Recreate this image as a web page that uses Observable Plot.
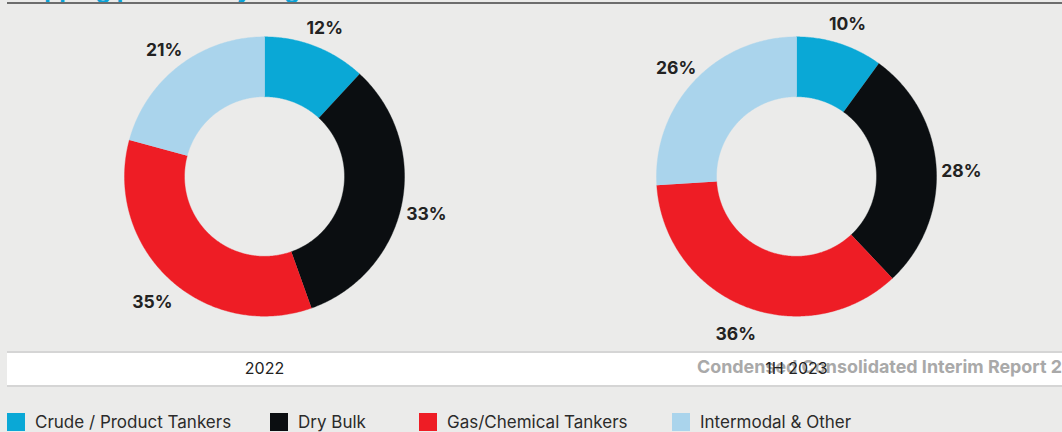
<!DOCTYPE html>
<html>
<head>
<meta charset="utf-8">
<script src="https://cdn.jsdelivr.net/npm/d3@7"></script>
<script src="https://cdn.jsdelivr.net/npm/@observablehq/plot@0.6"></script>
<style>
  html, body { margin: 0; padding: 0; }
  body { width: 1062px; height: 432px; overflow: hidden; background: #ebebea; position: relative; font-family: Inter, "Noto Sans", sans-serif; }
  #title { position: absolute; left: 7px; top: -25px; font-size: 24px; font-weight: 700; color: #0aa3d8; white-space: nowrap; }
  #rule { position: absolute; left: 7px; right: 0; top: 2px; height: 2px; background: #6d6d6d; }
  #band { position: absolute; left: 7px; right: 0; top: 351px; height: 32px; background: #fff; border-top: 2px solid #d5d5d5; border-bottom: 2px solid #d5d5d5; }
  #footer { position: absolute; left: 697px; top: 356px; font-size: 17.9px; font-weight: 700; color: #a9a9a9; white-space: nowrap; }
  #chart { position: absolute; left: -2px; top: 0; }
  #legend { position: absolute; left: 0; top: 412px; width: 1062px; height: 20px; }
  .item { position: absolute; top: 0; display: flex; align-items: center; font-size: 17px; color: #2b2b2b; white-space: nowrap; }
  .sw { width: 18px; height: 18px; margin-right: 10px; }
</style>
</head>
<body>
<div id="title">Shipping portfolio by segment</div>
<div id="rule"></div>
<div id="band"></div>
<div id="footer">Condensed Consolidated Interim Report 2023</div>
<div id="chart"></div>
<div id="legend"></div>
<script>
const categories = ["Crude / Product Tankers", "Dry Bulk", "Gas/Chemical Tankers", "Intermodal & Other"];
const colors = ["#0aa8d6", "#0b0e11", "#ee1d25", "#aad4ec"];
const periods = ["2022", "1H 2023"];
const values2022 = [12, 33, 35, 21];
const values1H2023 = [10, 28, 36, 26];

// layout only: left offsets of the legend entries (px)
const legendLeft = [7, 270, 419, 672];

const seriesByPeriod = {"2022": values2022, "1H 2023": values1H2023};
const innerR = 80 / 140;
const labelR = 1.18;

const slices = [];
const labels = [];
for (const p of periods) {
  const vals = seriesByPeriod[p];
  const total = d3.sum(vals);
  let acc = 0;
  vals.forEach((v, i) => {
    const a0 = acc / total * 2 * Math.PI;
    acc += v;
    const a1 = acc / total * 2 * Math.PI;
    const n = Math.max(8, Math.ceil((a1 - a0) / 0.01));
    const key = p + "|" + i;
    for (let k = 0; k <= n; k++) {
      const a = a0 + (a1 - a0) * k / n;
      slices.push({period: p, key, category: categories[i], x: Math.sin(a), y: Math.cos(a)});
    }
    for (let k = n; k >= 0; k--) {
      const a = a0 + (a1 - a0) * k / n;
      slices.push({period: p, key, category: categories[i], x: innerR * Math.sin(a), y: innerR * Math.cos(a)});
    }
    const am = (a0 + a1) / 2;
    labels.push({period: p, text: v + "%", x: labelR * Math.sin(am), y: labelR * Math.cos(am)});
  });
}

const chart = Plot.plot({
  width: 1064,
  height: 385,
  marginTop: 0,
  marginLeft: 0,
  marginRight: 0,
  marginBottom: 33,
  style: {background: "transparent", fontFamily: "Inter, 'Noto Sans', sans-serif", overflow: "visible"},
  fx: {domain: periods, padding: 0, axis: "bottom", label: null, tickSize: 0, tickPadding: 10, fontSize: 16},
  x: {domain: [-1.9, 1.9], axis: null},
  y: {domain: [-1.26, 1.26], axis: null},
  color: {domain: categories, range: colors},
  marks: [
    Plot.line(slices, {x: "x", y: "y", z: "key", fx: "period", fill: "category", stroke: "category", strokeWidth: 0.4, curve: "linear"}),
    Plot.text(labels, {x: "x", y: "y", fx: "period", text: "text", fontSize: 17.5, fontWeight: 700, fill: "#222", dy: 5})
  ]
});
chart.querySelectorAll("g[aria-label='fx-axis tick label'] text, g[aria-label='fx-axis tick label']").forEach(el => { el.setAttribute("fill", "#222"); el.style.fontSize = "16px"; });
document.getElementById("chart").appendChild(chart);

const legend = document.getElementById("legend");
categories.forEach((c, i) => {
  const item = document.createElement("div");
  item.className = "item";
  item.style.left = legendLeft[i] + "px";
  const sw = document.createElement("div");
  sw.className = "sw";
  sw.style.background = colors[i];
  const t = document.createElement("span");
  t.textContent = c;
  item.appendChild(sw);
  item.appendChild(t);
  legend.appendChild(item);
});
</script>
</body>
</html>
